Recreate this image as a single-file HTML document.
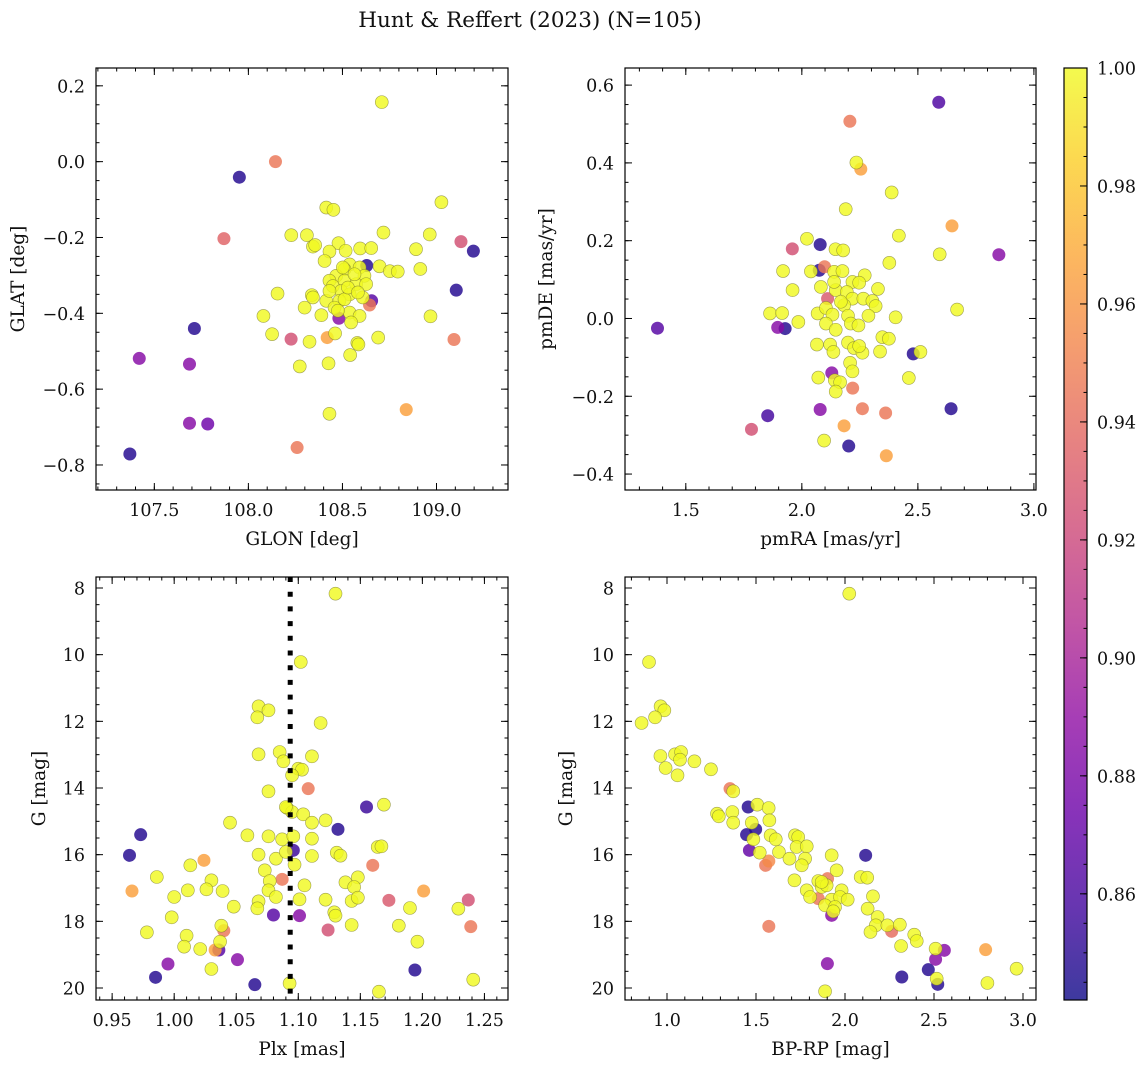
<!DOCTYPE html>
<html><head><meta charset="utf-8"><style>
body{margin:0;background:#fff;}
svg text{font-family:"DejaVu Serif","Liberation Serif",serif;fill:#111;}
</style></head><body>
<svg id="fig" width="1148" height="1067" xmlns="http://www.w3.org/2000/svg">
<text x="530" y="27" font-size="21.5" text-anchor="middle">Hunt &amp; Reffert (2023) (N=105)</text>
</svg>
<script>
// ---- data (Y=1.0, or=0.965, sa=0.945, pk=0.925, pu=0.885, vi=0.865, db=0.848)
const glon=[108.709,108.144,107.952,107.870,109.026,108.414,108.452,108.228,108.311,108.343,108.355,108.479,108.431,108.517,108.594,108.653,108.718,108.964,109.130,109.196,108.891,108.405,108.697,108.752,108.794,108.914,108.629,109.105,108.155,108.337,108.343,108.299,108.388,108.080,108.968,107.713,108.126,108.227,108.325,108.419,108.461,109.093,108.690,108.579,108.585,108.541,108.426,108.273,107.420,107.687,108.839,108.431,107.687,107.784,108.259,107.370,108.481,108.644,108.655,108.538,108.591,108.511,108.617,108.467,108.431,108.449,108.511,108.573,108.626,108.493,108.538,108.484,108.414,108.511,108.608,108.458,108.538,108.591,108.546,108.476,108.564,108.529,108.582,108.502,108.431];
const glat=[0.157,0.000,-0.041,-0.203,-0.107,-0.121,-0.127,-0.194,-0.194,-0.224,-0.220,-0.215,-0.237,-0.235,-0.229,-0.228,-0.187,-0.192,-0.211,-0.236,-0.231,-0.262,-0.276,-0.289,-0.290,-0.283,-0.274,-0.339,-0.348,-0.352,-0.358,-0.385,-0.405,-0.407,-0.408,-0.440,-0.455,-0.468,-0.475,-0.464,-0.453,-0.469,-0.464,-0.478,-0.482,-0.510,-0.532,-0.540,-0.519,-0.534,-0.654,-0.665,-0.690,-0.692,-0.754,-0.771,-0.413,-0.378,-0.367,-0.271,-0.279,-0.284,-0.301,-0.301,-0.314,-0.328,-0.314,-0.323,-0.323,-0.341,-0.350,-0.367,-0.367,-0.363,-0.358,-0.385,-0.398,-0.407,-0.424,-0.393,-0.297,-0.332,-0.345,-0.279,-0.341];
const probA=[1,.945,.848,.935,1,1,1,1,1,1,1,1,1,1,1,1,1,1,.925,.848,1,1,1,1,1,1,.848,.848,1,1,1,1,1,1,1,.848,1,.925,1,.965,1,.945,1,1,1,1,1,1,.885,.885,.965,1,.885,.875,.945,.848,.885,.945,.865,1,1,1,1,1,1,1,1,1,1,1,1,1,1,1,1,1,1,1,1,1,1,1,1,1,1];
const pmra=[2.590,2.207,2.235,2.254,2.387,2.189,2.647,2.418,2.022,2.079,1.959,2.145,2.178,2.594,2.849,2.377,1.919,2.039,2.075,2.098,2.139,2.175,2.271,1.960,2.082,2.146,2.218,2.247,2.328,2.111,2.194,2.218,2.265,2.304,2.318,2.182,1.863,1.915,2.068,2.104,2.132,2.199,2.287,2.404,2.669,1.378,1.896,1.928,1.985,2.104,2.146,2.211,2.244,2.065,2.122,2.136,2.199,2.225,2.261,2.247,2.337,2.347,2.375,2.480,2.511,2.208,2.218,2.129,2.071,2.142,2.165,2.146,2.461,2.219,2.079,2.261,2.361,2.643,1.853,1.783,2.182,2.096,2.202,2.364,2.139,2.168];
const pmde=[0.556,0.507,0.401,0.384,0.324,0.281,0.238,0.213,0.205,0.190,0.179,0.178,0.175,0.165,0.164,0.143,0.122,0.121,0.124,0.133,0.120,0.122,0.111,0.073,0.081,0.073,0.094,0.092,0.076,0.051,0.068,0.051,0.051,0.045,0.032,0.034,0.013,0.014,0.013,0.027,0.010,0.007,0.007,0.003,0.023,-0.025,-0.023,-0.026,-0.009,-0.013,-0.029,-0.013,-0.018,-0.067,-0.067,-0.086,-0.062,-0.076,-0.088,-0.071,-0.085,-0.048,-0.052,-0.091,-0.086,-0.114,-0.136,-0.140,-0.152,-0.159,-0.164,-0.188,-0.153,-0.179,-0.234,-0.232,-0.243,-0.232,-0.250,-0.285,-0.276,-0.314,-0.328,-0.353,0.094,0.043];
const probB=[.862,.945,1,.965,1,1,.965,1,1,.848,.925,1,1,1,.885,1,1,1,.848,.945,1,1,1,1,1,1,1,1,1,.93,1,1,1,1,1,1,1,1,1,1,1,1,1,1,1,.865,.885,.848,1,1,1,1,1,1,1,1,1,1,1,1,1,1,1,.848,1,1,1,.885,1,1,1,1,1,.945,.885,.945,.945,.848,.858,.925,.965,1,.848,.965,1,1];
const plx=[1.130,1.102,1.068,1.076,1.067,1.118,1.068,1.085,1.088,1.111,1.100,1.103,1.095,1.108,1.076,1.091,1.095,1.104,1.155,1.169,1.111,1.122,1.045,0.973,1.059,1.076,1.087,1.096,1.111,1.132,1.164,1.167,0.964,1.068,1.082,1.090,1.096,1.111,1.131,1.134,1.024,1.013,1.097,1.160,0.986,1.073,1.030,1.087,1.077,1.105,1.138,1.148,1.145,0.966,1.011,1.026,1.039,1.000,1.076,1.082,1.101,1.122,1.143,1.148,1.173,1.201,1.237,1.048,1.068,1.067,1.190,1.229,0.998,1.080,1.101,1.129,1.130,1.038,1.040,0.978,1.010,1.124,1.143,1.181,1.239,1.008,1.021,1.036,1.033,1.037,1.196,0.995,1.051,1.030,0.985,1.194,1.065,1.093,1.241,1.165,1.090];
const gmagA=[8.17,10.22,11.55,11.67,11.88,12.05,12.99,12.92,13.20,13.05,13.42,13.45,13.62,14.02,14.10,14.6,14.72,14.79,14.57,14.50,15.04,14.97,15.04,15.40,15.42,15.45,15.54,15.45,15.52,15.24,15.77,15.75,16.02,16.00,16.12,15.92,15.87,16.04,15.94,16.03,16.17,16.32,16.30,16.32,16.67,16.47,16.77,16.74,16.79,16.92,16.83,16.68,16.97,17.09,17.07,17.04,17.09,17.27,17.07,17.27,17.34,17.35,17.39,17.29,17.37,17.09,17.36,17.56,17.40,17.61,17.60,17.62,17.88,17.81,17.83,17.73,17.83,18.13,18.28,18.33,18.43,18.26,18.11,18.13,18.16,18.76,18.83,18.86,18.86,18.61,18.61,19.28,19.15,19.43,19.68,19.46,19.90,19.86,19.75,20.11,14.57];
const probC=[1,1,1,1,1,1,1,1,1,1,1,1,1,.945,1,1,1,1,.855,1,1,1,1,.848,1,1,1,1,1,.848,1,1,.848,1,1,1,.855,1,1,1,.965,1,1,.945,1,1,1,.945,1,1,1,1,1,.965,1,1,1,1,1,1,1,1,1,1,.93,.965,.925,1,1,1,1,1,1,.865,.885,1,1,1,.945,1,1,.925,1,1,.945,1,1,.865,.965,1,1,.885,.885,1,.848,.848,.848,1,1,1,1];
const bprp=[2.024,0.899,0.964,0.985,0.933,0.857,0.963,1.045,1.079,1.073,1.154,0.992,1.059,1.247,1.354,1.372,1.456,1.507,1.571,1.281,1.291,1.367,1.575,1.372,1.476,1.498,1.447,1.485,1.582,1.611,1.719,1.737,1.728,1.785,1.463,1.521,1.629,1.925,2.116,1.688,1.776,1.572,1.554,1.757,1.953,2.088,2.125,1.716,1.850,1.902,1.869,1.897,1.785,1.981,1.804,1.850,1.925,1.972,2.015,2.157,1.888,1.944,1.925,1.934,2.127,2.183,2.173,1.572,2.143,2.238,2.262,2.308,2.389,2.403,2.315,2.509,2.558,2.509,2.790,1.901,2.468,2.964,2.319,2.515,2.521,2.800,1.888,1.869];
const gmagB=[8.17,10.22,11.55,11.67,11.88,12.05,13.04,12.99,12.92,13.15,13.20,13.40,13.62,13.44,14.02,14.10,14.57,14.50,14.60,14.77,14.85,14.72,14.97,15.04,15.04,15.24,15.40,15.54,15.42,15.54,15.42,15.47,15.77,15.75,15.87,15.94,15.92,16.02,16.02,16.12,16.12,16.19,16.32,16.32,16.47,16.67,16.69,16.77,16.79,16.72,16.97,16.92,17.07,17.07,17.27,17.32,17.35,17.27,17.35,17.25,17.52,17.57,17.82,17.70,17.62,17.87,18.12,18.15,18.32,18.12,18.30,18.10,18.40,18.59,18.74,18.82,18.87,19.14,18.85,19.27,19.45,19.42,19.67,19.72,19.89,19.85,20.10,16.82];
const probD=[1,1,1,1,1,1,1,1,1,1,1,1,1,1,.945,1,.848,1,1,1,1,1,1,1,1,.848,.848,1,1,1,1,1,1,1,.87,1,1,1,.848,1,1,.955,.945,1,1,1,1,1,1,.945,1,1,1,1,1,.945,1,1,1,1,1,1,.885,1,1,1,1,.945,1,1,.94,1,1,1,1,1,.885,.885,.965,.885,.848,1,.848,1,.848,1,1,1];
const plxLine=[1.0935];
const cbTicks=[0.86,0.88,0.90,0.92,0.94,0.96,0.98,1.00];
const VMIN=0.842, VMAX=1.0;

const NS="http://www.w3.org/2000/svg";
const svg=document.getElementById('fig');
function el(tag,attrs,parent){const e=document.createElementNS(NS,tag);for(const k in attrs)e.setAttribute(k,attrs[k]);(parent||svg).appendChild(e);return e;}
const stops=["#0d0887","#41049d","#6a00a8","#8f0da4","#b12a90","#cc4778","#e16462","#f2844b","#fca636","#fcce25","#f0f921"];
function hex(h){return [1,3,5].map(i=>parseInt(h.substr(i,2),16));}
function plasma(t){t=Math.max(0,Math.min(1,t));const f=t*10,i=Math.min(9,Math.floor(f)),u=f-i;const a=hex(stops[i]),b=hex(stops[i+1]);return 'rgb('+a.map((v,k)=>Math.round(v+(b[k]-v)*u)).join(',')+')';}
function fmt(v,d){return v.toFixed(d).replace('-','\u2212');}
const TF=17.5, LF=18.5;

function panel(o){
  const {x0,y0,w,h,xmin,xmax,ymin,ymax,inv}=o;
  const sx=v=>x0+(v-xmin)/(xmax-xmin)*w;
  const sy=inv? v=>y0+(v-ymin)/(ymax-ymin)*h : v=>y0+h-(v-ymin)/(ymax-ymin)*h;
  const g=el('g',{});
  
  
  const clipId=o.name+'-clip';
  const cp=el('clipPath',{id:clipId},g);el('rect',{x:x0,y:y0,width:w,height:h},cp);
  const pts=el('g',{'clip-path':'url(#'+clipId+')'},g);
  
  
  const idx=o.xs.map((_,i)=>i).sort((a,b)=>o.ps[a]-o.ps[b]);
  idx.forEach(i=>{
    const c=el('circle',{cx:sx(o.xs[i]),cy:sy(o.ys[i]),r:6.5,fill:plasma((o.ps[i]-VMIN)/(VMAX-VMIN)),'fill-opacity':0.82,stroke:o.ps[i]>0.99?'#7a7a30':'none','stroke-width':0.6,'stroke-opacity':0.7},pts);
    
    
  });
  if(o.vline){o.vline.forEach(v=>{const l=el('line',{x1:sx(v),x2:sx(v),y1:y0,y2:y0+h,stroke:'#000','stroke-width':5,'stroke-dasharray':'5,9.7'},pts);
    
    });}
  el('rect',{x:x0,y:y0,width:w,height:h,fill:'none',stroke:'#000','stroke-width':1.2},g);
  const tk=el('g',{stroke:'#000','stroke-width':1},g);
  const eps=1e-9;
  function ticks(min,max,step){const a=[];for(let v=Math.ceil(min/step-eps)*step;v<=max+eps;v+=step)a.push(Math.round(v/step)*step);return a;}
  ticks(xmin,xmax,o.xminor).forEach(v=>{const X=sx(v);el('line',{x1:X,x2:X,y1:y0+h,y2:y0+h-3.5},tk);el('line',{x1:X,x2:X,y1:y0,y2:y0+3.5},tk);});
  ticks(ymin,ymax,o.yminor).forEach(v=>{const Y=sy(v);el('line',{x1:x0,x2:x0+3.5,y1:Y,y2:Y},tk);el('line',{x1:x0+w,x2:x0+w-3.5,y1:Y,y2:Y},tk);});
  ticks(xmin,xmax,o.xmajor).forEach(v=>{const X=sx(v);el('line',{x1:X,x2:X,y1:y0+h,y2:y0+h-7},tk);el('line',{x1:X,x2:X,y1:y0,y2:y0+7},tk);
    const t=el('text',{x:X,y:y0+h+26,'font-size':TF,'text-anchor':'middle'},g);t.textContent=fmt(v,o.xd);
    
    });
  ticks(ymin,ymax,o.ymajor).forEach(v=>{const Y=sy(v);el('line',{x1:x0,x2:x0+7,y1:Y,y2:Y},tk);el('line',{x1:x0+w,x2:x0+w-7,y1:Y,y2:Y},tk);
    const t=el('text',{x:x0-11,y:Y+6.5,'font-size':TF,'text-anchor':'end'},g);t.textContent=fmt(v,o.yd);
    
    });
  const xl=el('text',{x:x0+w/2,y:y0+h+55,'font-size':LF,'text-anchor':'middle'},g);xl.textContent=o.xlabel;
  
  
  const ylx=o.ylx, yly=y0+h/2;
  const yl=el('text',{x:ylx,y:yly,'font-size':LF,'text-anchor':'middle',transform:'rotate(-90 '+ylx+' '+yly+')'},g);yl.textContent=o.ylabel;
  
  
}
panel({name:'glon-glat-panel',x0:96,y0:68,w:412,h:422,xmin:107.19,xmax:109.38,ymin:-0.866,ymax:0.247,xmajor:0.5,xminor:0.1,ymajor:0.2,yminor:0.05,xd:1,yd:1,xs:glon,ys:glat,ps:probA,xlabel:'GLON [deg]',ylabel:'GLAT [deg]',ylx:24});
panel({name:'proper-motion-panel',x0:625,y0:68,w:411,h:422,xmin:1.238,xmax:3.009,ymin:-0.441,ymax:0.644,xmajor:0.5,xminor:0.1,ymajor:0.2,yminor:0.05,xd:1,yd:1,xs:pmra,ys:pmde,ps:probB,xlabel:'pmRA [mas/yr]',ylabel:'pmDE [mas/yr]',ylx:552});
panel({name:'parallax-g-panel',x0:96,y0:577,w:412,h:423,xmin:0.937,xmax:1.269,ymin:7.67,ymax:20.36,inv:true,xmajor:0.05,xminor:0.01,ymajor:2,yminor:0.5,xd:2,yd:0,xs:plx,ys:gmagA,ps:probC,vline:plxLine,xlabel:'Plx [mas]',ylabel:'G [mag]',ylx:45});
panel({name:'cmd-panel',x0:625,y0:577,w:411,h:423,xmin:0.764,xmax:3.073,ymin:7.67,ymax:20.36,inv:true,xmajor:0.5,xminor:0.1,ymajor:2,yminor:0.5,xd:1,yd:0,xs:bprp,ys:gmagB,ps:probD,xlabel:'BP-RP [mag]',ylabel:'G [mag]',ylx:572});

// colorbar
const cb=el('g',{});


const defs=el('defs',{},cb);
const lg=el('linearGradient',{id:'cbg',x1:0,y1:1,x2:0,y2:0},defs);
stops.forEach((s,i)=>el('stop',{offset:i/10,'stop-color':s},lg));
const cbx=1064,cby=68,cbw=23,cbh=932;
el('rect',{x:cbx,y:cby,width:cbw,height:cbh,fill:'url(#cbg)','fill-opacity':0.8},cb);
el('rect',{x:cbx,y:cby,width:cbw,height:cbh,fill:'none',stroke:'#000','stroke-width':1.2},cb);
const cy=v=>cby+cbh-(v-VMIN)/(VMAX-VMIN)*cbh;
for(let v=0.845;v<1.0;v+=0.005){const Y=cy(v);el('line',{x1:cbx+cbw,x2:cbx+cbw-3.5,y1:Y,y2:Y,stroke:'#000'},cb);}
cbTicks.forEach(v=>{const Y=cy(v);el('line',{x1:cbx+cbw,x2:cbx+cbw-7,y1:Y,y2:Y,stroke:'#000'},cb);
  const t=el('text',{x:cbx+cbw+10,y:Y+6.5,'font-size':TF},cb);t.textContent=v.toFixed(2);
  
  });
</script>
</body></html>
